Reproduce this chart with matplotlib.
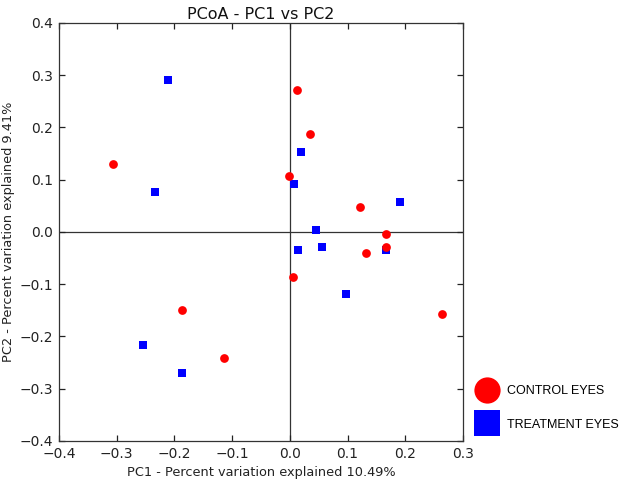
import matplotlib
matplotlib.use("Agg")
import matplotlib.pyplot as plt

# -----------------------
# Data
# -----------------------
control_pc1 = [-0.306, 0.012, 0.035, -0.001, 0.121, 0.166, 0.166, 0.132, 0.005, -0.187, -0.114, 0.263]
control_pc2 = [0.130, 0.271, 0.187, 0.108, 0.047, -0.003, -0.029, -0.040, -0.086, -0.149, -0.241, -0.157]

treatment_pc1 = [-0.212, -0.233, 0.019, 0.008, 0.191, 0.046, 0.014, 0.056, 0.166, 0.097, -0.255, -0.187]
treatment_pc2 = [0.290, 0.077, 0.154, 0.091, 0.057, 0.004, -0.034, -0.029, -0.034, -0.119, -0.216, -0.269]

TITLE = "PCoA - PC1 vs PC2"
XLABEL = "PC1 - Percent variation explained 10.49%"
YLABEL = "PC2 - Percent variation explained 9.41%"

# -----------------------
# Plot
# -----------------------
fig = plt.figure(figsize=(6.25, 4.83), dpi=100)
ax = fig.add_axes([0.0944, 0.087, 0.6464, 0.8654])

ax.axvline(0, color="#333333", linewidth=0.9, zorder=1)
ax.axhline(0, color="#333333", linewidth=0.9, zorder=1)

ax.plot(control_pc1, control_pc2, "o", color="#ff0000", markersize=6.3,
        markeredgewidth=0, linestyle="none", label="CONTROL EYES", zorder=3)
ax.plot(treatment_pc1, treatment_pc2, "s", color="#0000ff", markersize=6.3,
        markeredgewidth=0, linestyle="none", label="TREATMENT EYES", zorder=2)

ax.set_xlim(-0.4, 0.3)
ax.set_ylim(-0.4, 0.4)
ax.set_xticks([-0.4, -0.3, -0.2, -0.1, 0.0, 0.1, 0.2, 0.3])
ax.set_yticks([-0.4, -0.3, -0.2, -0.1, 0.0, 0.1, 0.2, 0.3, 0.4])
ax.tick_params(direction="in", top=True, right=True, length=4.5, width=0.9,
               labelsize=10, colors="#222222", pad=4)
for s in ax.spines.values():
    s.set_color("#333333")
    s.set_linewidth(0.9)

ax.set_title(TITLE, fontsize=11.5, pad=3, color="#111111")
ax.set_xlabel(XLABEL, fontsize=9.3, labelpad=4, color="#222222")
ax.set_ylabel(YLABEL, fontsize=9.3, color="#222222")
ax.yaxis.set_label_coords(-0.108, 0.5)

leg = ax.legend(loc="upper left", bbox_to_anchor=(1.0, 0.16), frameon=False,
                markerscale=3.0, handletextpad=0.6, labelspacing=1.7,
                prop={"family": "Liberation Sans", "size": 9})

fig.savefig("out.png", dpi=100)
